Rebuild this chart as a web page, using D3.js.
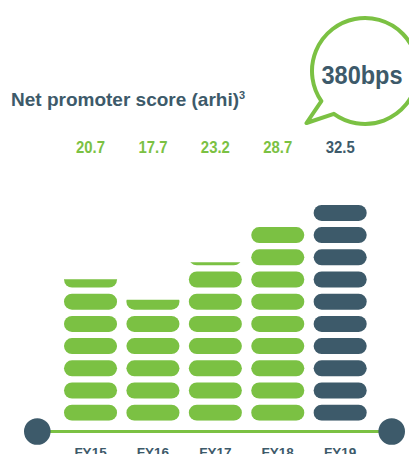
<!DOCTYPE html>
<html>
<head>
<meta charset="utf-8">
<script src="https://cdn.jsdelivr.net/npm/d3@7"></script>
<style>
    html, body { margin: 0; padding: 0; background: #fff; overflow: hidden; }
    svg { display: block; font-family: "Liberation Sans", Arial, sans-serif; font-weight: bold; }
</style>
</head>
<body>
<svg id="chart" width="409" height="454"></svg>
<script>
// data
const years = ["FY15", "FY16", "FY17", "FY18", "FY19"];
const nps = [20.7, 17.7, 23.2, 28.7, 32.5];
const valueLabels = ["20.7", "17.7", "23.2", "28.7", "32.5"];
const highlight = "FY19";
const title = "Net promoter score (arhi)";
const titleNote = "3";
const changeLabel = "380bps";

const c_green = "#7bc143", c_dark = "#3d5a6a";
const pill_unit = 3.25;   // one pill per 3.25 points
const pill_h = 16;

const svg = d3.select("#chart");

// scales
const x = d3.scaleBand().domain(years).range([64, 366.7]).paddingInner(0.15).paddingOuter(0);
const y = d3.scaleLinear().domain([0, 32.5]).range([420.7, 198.7]);

// title
const t = svg.append("text").attr("x", 11).attr("y", 106)
    .style("font-size", "19px").style("fill", c_dark).text(title);
t.append("tspan").attr("dy", -7).style("font-size", "11px").text(titleNote);

// speech bubble
const bub = { cx: 365, cy: 71, r: 53, a1: 126, a2: 145.4, tip: [306.5, 123] };
const pt = a => [bub.cx + bub.r * Math.cos(a * Math.PI / 180), bub.cy + bub.r * Math.sin(a * Math.PI / 180)];
const pB = pt(bub.a1), pA = pt(bub.a2);
svg.append("path")
    .attr("d", "M" + pB + "A" + bub.r + "," + bub.r + " 0 1 0 " + pA + "L" + bub.tip + "Z")
    .attr("fill", "none").attr("stroke", c_green).attr("stroke-width", 4).attr("stroke-linejoin", "round");
svg.append("text").attr("x", 362).attr("y", 83.5).attr("text-anchor", "middle")
    .attr("textLength", 81).attr("lengthAdjust", "spacingAndGlyphs")
    .style("font-size", "25px").style("fill", c_dark).text(changeLabel);

// value labels
svg.selectAll(".val").data(years).join("text").classed("val", true)
    .attr("x", d => x(d) + x.bandwidth() / 2).attr("y", 152.5)
    .attr("text-anchor", "middle").attr("textLength", 29).attr("lengthAdjust", "spacingAndGlyphs")
    .style("font-size", "16.5px")
    .style("fill", d => d == highlight ? c_dark : c_green)
    .text((d, i) => valueLabels[i]);

// pill bars, clipped to value height
const defs = svg.append("defs");
years.forEach(function (yr, i) {
    defs.append("clipPath").attr("id", "clip_" + yr)
        .append("rect").attr("x", x(yr) - 1).attr("width", x.bandwidth() + 2)
        .attr("y", y(nps[i])).attr("height", y(0) - y(nps[i]));
    const n = Math.ceil(nps[i] / pill_unit);
    svg.append("g").attr("clip-path", "url(#clip_" + yr + ")")
        .selectAll("rect").data(d3.range(n)).join("rect")
        .attr("x", x(yr)).attr("width", x.bandwidth())
        .attr("y", k => y(k * pill_unit) - pill_h).attr("height", pill_h)
        .attr("rx", pill_h / 2).attr("ry", pill_h / 2)
        .attr("fill", yr == highlight ? c_dark : c_green);
});

// baseline with end dots
svg.append("line").attr("x1", 50).attr("x2", 380).attr("y1", 431.5).attr("y2", 431.5)
    .attr("stroke", c_green).attr("stroke-width", 3);
svg.selectAll(".dot").data([37.3, 391.7]).join("circle").classed("dot", true)
    .attr("cx", d => d).attr("cy", 431.5).attr("r", 13.3).attr("fill", c_dark);

// x labels (cut by the bottom edge, as in the original)
svg.selectAll(".yr").data(years).join("text").classed("yr", true)
    .attr("x", d => x(d) + x.bandwidth() / 2).attr("y", 457)
    .attr("text-anchor", "middle").style("font-size", "13.5px").style("fill", c_dark)
    .text(d => d);
</script>
</body>
</html>
